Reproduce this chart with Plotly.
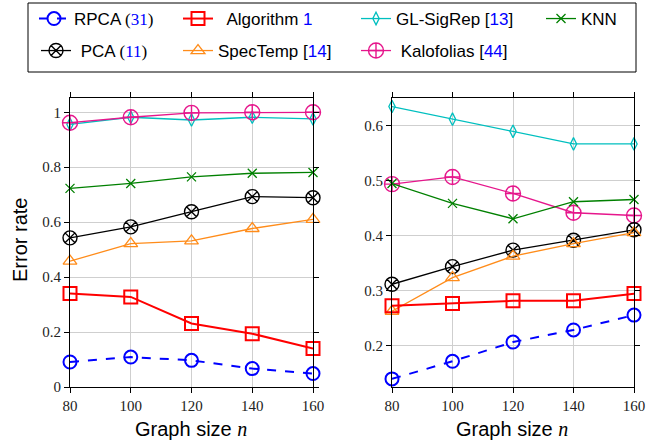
import plotly.graph_objects as go

W, H = 647, 441

x_vals = [80, 100, 120, 140, 160]

# Left panel
left_rpca = [0.091, 0.109, 0.097, 0.067, 0.049]
left_alg = [0.340, 0.328, 0.231, 0.194, 0.140]
left_spec = [0.458, 0.522, 0.532, 0.577, 0.610]
left_pca = [0.543, 0.583, 0.638, 0.693, 0.689]
left_knn = [0.723, 0.741, 0.765, 0.778, 0.781]
left_gl = [0.956, 0.982, 0.972, 0.982, 0.976]
left_kalo = [0.962, 0.982, 0.998, 1.000, 1.000]

# Right panel
right_rpca = [0.140, 0.172, 0.207, 0.229, 0.256]
right_alg = [0.273, 0.277, 0.282, 0.282, 0.295]
right_spec = [0.263, 0.324, 0.363, 0.386, 0.406]
right_pca = [0.312, 0.344, 0.374, 0.392, 0.411]
right_knn = [0.495, 0.459, 0.431, 0.462, 0.466]
right_kalo = [0.494, 0.507, 0.477, 0.442, 0.437]
right_gl = [0.635, 0.612, 0.590, 0.567, 0.567]

left_yticks = [0, 0.2, 0.4, 0.6, 0.8, 1]
left_yticktext = ["0", "0.2", "0.4", "0.6", "0.8", "1"]
right_yticks = [0.2, 0.3, 0.4, 0.5, 0.6]
right_yticktext = ["0.2", "0.3", "0.4", "0.5", "0.6"]

SANS = "Liberation Sans, Arial, sans-serif"
SERIF = "Liberation Serif, Times New Roman, serif"
B = "#0000FF"

def serif(s, color="black"):
    return f"<span style='font-family:{SERIF};color:{color}'>{s}</span>"

def blue(s):
    return f"<span style='color:{B}'>{s}</span>"

names = {
    "rpca": "RPCA " + serif("(") + serif("31", B) + serif(")"),
    "alg": "  Algorithm " + blue("1"),
    "gl": "GL-SigRep [" + blue("13") + "]",
    "knn": "KNN",
    "pca": " PCA " + serif("(") + serif("11", B) + serif(")"),
    "spec": "SpecTemp [" + blue("14") + "]",
    "kalo": " Kalofolias [" + blue("44") + "]",
}

styles = {
    "rpca": dict(color="#0000FF", dash="dash", lw=2, symbol="circle-open", size=13, mlw=2),
    "alg": dict(color="#FF0000", dash="solid", lw=2, symbol="square-open", size=13, mlw=2),
    "gl": dict(color="#00BFBF", dash="solid", lw=1.3, symbol="diamond-tall-open", size=9, mlw=1.3),
    "knn": dict(color="#008000", dash="solid", lw=1.3, symbol="x-thin-open", size=9, mlw=1.3),
    "pca": dict(color="#000000", dash="solid", lw=1.3, symbol="circle-x-open", size=14, mlw=1.4),
    "spec": dict(color="#FF8C1A", dash="solid", lw=1.3, symbol="triangle-up-open", size=12, mlw=1.3),
    "kalo": dict(color="#E6168C", dash="solid", lw=1.3, symbol="circle-cross-open", size=15, mlw=1.4),
}

left_data = {"rpca": left_rpca, "alg": left_alg, "spec": left_spec, "pca": left_pca,
             "knn": left_knn, "gl": left_gl, "kalo": left_kalo}
right_data = {"rpca": right_rpca, "alg": right_alg, "spec": right_spec, "pca": right_pca,
              "knn": right_knn, "gl": right_gl, "kalo": right_kalo}

legend_ids = {"rpca": "legend", "alg": "legend2", "gl": "legend3", "knn": "legend4",
              "pca": "legend5", "spec": "legend6", "kalo": "legend7"}
legend_pos = {"rpca": (34, 19), "alg": (178, 19), "gl": (356, 19), "knn": (541, 19),
              "pca": (36, 51), "spec": (178, 51), "kalo": (356, 51)}

order = ["gl", "kalo", "knn", "pca", "spec", "alg", "rpca"]

fig = go.Figure()
for key in order:
    st = styles[key]
    for panel, data, xa, ya in (("L", left_data, "x", "y"), ("R", right_data, "x2", "y2")):
        fig.add_trace(go.Scatter(
            x=x_vals, y=data[key], xaxis=xa, yaxis=ya,
            mode="lines+markers", name=names[key],
            line=dict(color=st["color"], width=st["lw"], dash=st["dash"]),
            marker=dict(symbol=st["symbol"], size=st["size"], color=st["color"],
                        line=dict(width=st["mlw"], color=st["color"])),
            cliponaxis=False,
            showlegend=(panel == "L"),
            legend=legend_ids[key],
        ))

axis_common = dict(
    showline=True, linecolor="black", linewidth=1, mirror="ticks",
    ticks="outside", ticklen=5, tickcolor="black", tickwidth=1,
    showgrid=True, gridcolor="#CFCFCF", gridwidth=1, zeroline=False,
    tickfont=dict(family=SERIF, size=15, color="#222222"),
)

y0 = 1 - 387 / H
y1 = 1 - 98 / H

layout = dict(
    width=W, height=H, margin=dict(l=0, r=0, t=0, b=0, autoexpand=False),
    paper_bgcolor="white", plot_bgcolor="white",
    font=dict(family=SANS, size=17, color="black"),
    xaxis=dict(domain=[70 / W, 313 / W], range=[80, 160], tickvals=x_vals,
               anchor="y", **axis_common),
    yaxis=dict(domain=[y0, y1], range=[0, 1.052], tickvals=left_yticks,
               ticktext=left_yticktext, anchor="x", **axis_common),
    xaxis2=dict(domain=[392 / W, 634 / W], range=[80, 160], tickvals=x_vals,
                anchor="y2", **axis_common),
    yaxis2=dict(domain=[y0, y1], range=[0.1253, 0.6505], tickvals=right_yticks,
                ticktext=right_yticktext, anchor="x2", **axis_common),
    shapes=[dict(type="rect", xref="paper", yref="paper",
                 x0=28 / W, x1=636 / W, y0=1 - 72 / H, y1=1 - 3 / H,
                 line=dict(color="black", width=1), fillcolor="rgba(0,0,0,0)")],
    annotations=[
        dict(text="Error rate", xref="paper", yref="paper", x=20 / W, y=1 - 240 / H,
             textangle=-90, showarrow=False, font=dict(family=SANS, size=20),
             xanchor="center", yanchor="middle"),
        dict(text="Graph size " + serif("<i>n</i>"), xref="paper", yref="paper",
             x=191 / W, y=1 - 429 / H, showarrow=False, font=dict(family=SANS, size=20),
             xanchor="center", yanchor="middle"),
        dict(text="Graph size " + serif("<i>n</i>"), xref="paper", yref="paper",
             x=512 / W, y=1 - 429 / H, showarrow=False, font=dict(family=SANS, size=20),
             xanchor="center", yanchor="middle"),
    ],
)

for key, lid in legend_ids.items():
    px, py = legend_pos[key]
    layout[lid] = dict(x=px / W, y=1 - py / H, xanchor="left", yanchor="middle",
                       xref="paper", yref="paper",
                       bgcolor="rgba(0,0,0,0)", borderwidth=0,
                       font=dict(family=SANS, size=17, color="black"),
                       itemwidth=30)

fig.update_layout(**layout)
fig.write_html("out.html")
